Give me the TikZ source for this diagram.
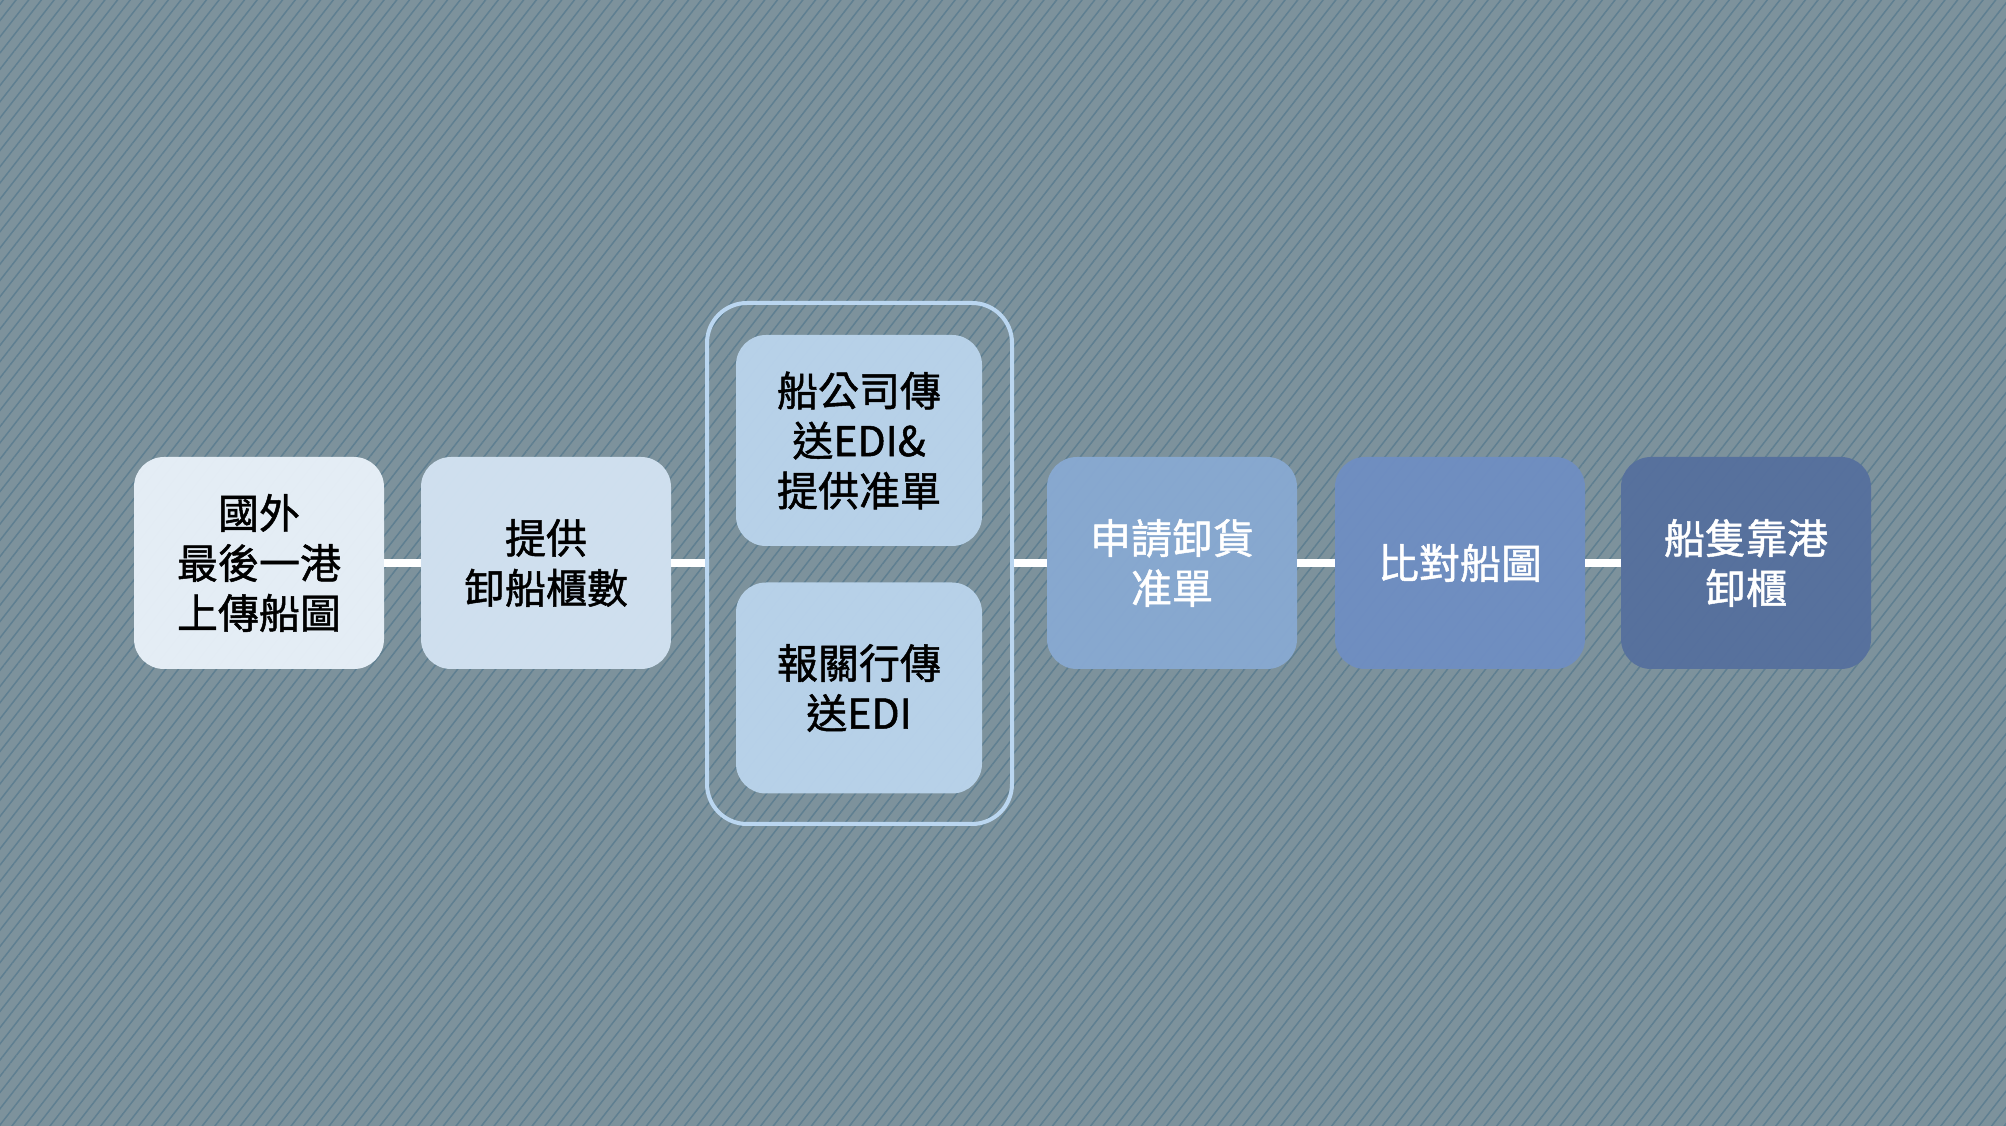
\documentclass[tikz,border=0pt]{standalone}
\usepackage{fontspec}
\newfontfamily\cjk[BoldFont={Noto Sans CJK TC},BoldFeatures={FakeBold=1.2}]{Noto Sans CJK TC}
\usetikzlibrary{patterns.meta}
\definecolor{bgc}{HTML}{7D929C}
\definecolor{hatchc}{HTML}{5F7F91}
\definecolor{cA}{HTML}{E9F1F9}
\definecolor{cB}{HTML}{D3E3F2}
\definecolor{cC}{HTML}{BAD4EC}
\definecolor{cD}{HTML}{88A9D2}
\definecolor{cE}{HTML}{6F8EC2}
\definecolor{cF}{HTML}{56709E}
\definecolor{grpc}{HTML}{BAD6F0}
\tikzset{
  box/.style={rounded corners=30pt, minimum width=250pt, minimum height=212pt,
    inner sep=0pt, align=center, font=\cjk\bfseries\fontsize{41}{50}\selectfont,
    fill opacity=0.96, text opacity=1},
  inbox/.style={box, minimum width=246pt, minimum height=211pt},
  conn/.style={draw=white, line width=8pt},
  grp/.style={draw=grpc, line width=4pt, rounded corners=40pt}
}
\begin{document}
\begin{tikzpicture}[x=1pt,y=1pt]
\useasboundingbox (0,0) rectangle (2006,1125);
\fill[bgc] (-2,-2) rectangle (2008,1127);
\fill[pattern={Lines[angle=52,distance=10pt,line width=1.5pt]}, pattern color=hatchc] (-2,-2) rectangle (2008,1127);
% group frame
\node[grp, minimum width=305pt, minimum height=521pt, inner sep=0pt] (grp) at (859.5,561.5) {};
% boxes
\node[box, fill=cA, text=black] (b1) at (259,562) {國外\\最後一港\\上傳船圖};
\node[box, fill=cB, text=black] (b2) at (546,562) {提供\\卸船櫃數};
\node[inbox, fill=cC, text=black] (b3a) at (859,684.5) {船公司傳\\送EDI\&\\提供准單};
\node[inbox, fill=cC, text=black] (b3b) at (859,437) {報關行傳\\送EDI};
\node[box, fill=cD, text=white] (b4) at (1172,562) {申請卸貨\\准單};
\node[box, fill=cE, text=white] (b5) at (1460,562) {比對船圖};
\node[box, fill=cF, text=white] (b6) at (1746,562) {船隻靠港\\卸櫃};
% connectors
\draw[conn] (b1.east) -- (b2.west);
\draw[conn] (b2.east) -- (b2.east -| grp.west);
\draw[conn] (grp.east |- b4.west) -- (b4.west);
\draw[conn] (b4.east) -- (b5.west);
\draw[conn] (b5.east) -- (b6.west);
\end{tikzpicture}
\end{document}
